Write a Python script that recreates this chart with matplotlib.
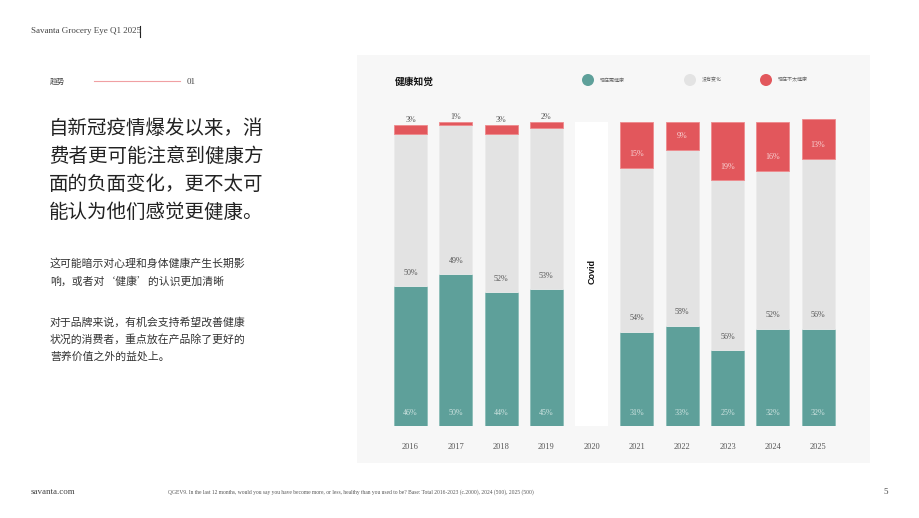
import matplotlib
matplotlib.use("Agg")
import matplotlib.pyplot as plt
from matplotlib.patches import Rectangle, Circle

# === Data ===
years = ["2016", "2017", "2018", "2019", "2020", "2021", "2022", "2023", "2024", "2025"]
healthier = [46, 50, 44, 45, 0, 31, 33, 25, 32, 32]
no_change = [50, 49, 52, 53, 0, 54, 58, 56, 52, 56]
less_healthy = [3, 1, 3, 2, 0, 15, 9, 19, 16, 13]
covid_year = "2020"

legend_labels = ["现在更健康", "没有变化", "现在不太健康"]
chart_title = "健康知觉"

headline = ["自新冠疫情爆发以来，消", "费者更可能注意到健康方",
            "面的负面变化，更不太可", "能认为他们感觉更健康。"]
para1 = ["这可能暗示对心理和身体健康产生长期影", "响，或者对‘健康’的认识更加清晰"]
para2 = ["对于品牌来说，有机会支持希望改善健康", "状况的消费者，重点放在产品除了更好的",
         "营养价值之外的益处上。"]
footnote = ("QGEV9. In the last 12 months, would you say you have become more, or less, "
            "healthy than you used to be? Base: Total 2016-2023 (c.2000), 2024 (500), 2025 (500)")

# === Style ===
TEAL = "#5ea09a"
GREY = "#e3e3e3"
RED = "#e2575c"
PANEL = "#f7f7f7"
CJK = ["Noto Sans CJK SC", "DejaVu Sans"]
SERIF = ["Liberation Serif", "DejaVu Serif"]

W, H = 920, 518
fig = plt.figure(figsize=(W / 100, H / 100), dpi=100)
fig.patch.set_facecolor("white")

# background layer in pixel coordinates (y down)
bg = fig.add_axes([0, 0, 1, 1])
bg.set_xlim(0, W)
bg.set_ylim(H, 0)
bg.axis("off")

bg.add_patch(Rectangle((357, 55), 513, 408, facecolor=PANEL, edgecolor="none"))

# header / left column
bg.text(31, 31, "Savanta Grocery Eye Q1 2025", family=SERIF, fontsize=6.5,
        color="#444444", va="center")
bg.plot([140, 140], [26, 37], color="#222222", lw=0.8)
bg.text(50, 82, "趋势", family=CJK, fontsize=5.5, color="#444444", va="center")
bg.plot([94, 180], [81, 81], color="#f0a0a3", lw=0.8)
bg.text(187, 82, "01", family=SERIF, fontsize=6.5, color="#444444", va="center")

for i, line in enumerate(headline):
    bg.text(49, 128 + i * 28, line, family=CJK, fontsize=14, color="#222222", va="center")
for i, line in enumerate(para1):
    bg.text(50, 263 + i * 18, line, family=CJK, fontsize=7.8, color="#333333", va="center")
for i, line in enumerate(para2):
    bg.text(50, 323 + i * 17, line, family=CJK, fontsize=7.8, color="#333333", va="center")

# footer
bg.text(31, 492, "savanta.com", family=SERIF, fontsize=6.5, color="#444444", va="center")
bg.text(168, 492, footnote, family=SERIF, fontsize=4.0, color="#555555", va="center")
bg.text(883, 492, "5", family=SERIF, fontsize=6.5, color="#444444", va="center")

# chart title and legend
bg.text(395, 82, chart_title, family=CJK, fontsize=7, fontweight="bold",
        color="#111111", va="center")
for cx, col, lab in zip([588, 690, 766], [TEAL, GREY, RED], legend_labels):
    bg.add_patch(Circle((cx, 80), 6, facecolor=col, edgecolor="none"))
    bg.text(cx + 12, 80, lab, family=CJK, fontsize=3.6, color="#666666", va="center")

# === Bar chart ===
ax = fig.add_axes([383.3 / W, (H - 426) / H, 462 / W, 319 / H])
ax.patch.set_alpha(0)
x = list(range(len(years)))
bw = 0.73
lab_fs = 5.8

for i, yr in enumerate(years):
    if yr == covid_year:
        ax.bar(i, 100, width=bw, color="white", edgecolor="none")
        ax.text(i, 51, "Covid", rotation=90, ha="center", va="center",
                family=["Liberation Sans", "DejaVu Sans"], fontsize=6.5,
                fontweight="bold", color="#111111")
        continue
    g, n, r = healthier[i], no_change[i], less_healthy[i]
    ax.bar(i, g, width=bw, color=TEAL, edgecolor="#8cbdb8", linewidth=0.6)
    ax.bar(i, n, bottom=g, width=bw, color=GREY, edgecolor="#ebebeb", linewidth=0.6)
    ax.bar(i, r, bottom=g + n, width=bw, color=RED, edgecolor="#ee8a8d", linewidth=0.6)

    ax.text(i, 4.4, f"{g}%", ha="center", va="center", family=SERIF,
            fontsize=lab_fs, color="#cfe4e1")
    ax.text(i, g + 4.4, f"{n}%", ha="center", va="center", family=SERIF,
            fontsize=lab_fs, color="#555555")
    if r >= 5:
        ax.text(i, g + n + 4.4, f"{r}%", ha="center", va="center", family=SERIF,
                fontsize=lab_fs, color="#f9d4d5")
    else:
        ax.text(i, g + n + r + 1.8, f"{r}%", ha="center", va="center", family=SERIF,
                fontsize=lab_fs, color="#555555")

ax.set_xlim(-0.6, len(years) - 0.4)
ax.set_ylim(0, 105)
ax.set_xticks(x)
ax.set_xticklabels(years, family=SERIF, fontsize=6, color="#555555")
ax.tick_params(axis="x", length=0, pad=12)
ax.set_yticks([])
for s in ax.spines.values():
    s.set_visible(False)

fig.savefig("out.png", dpi=100, facecolor=fig.get_facecolor())
